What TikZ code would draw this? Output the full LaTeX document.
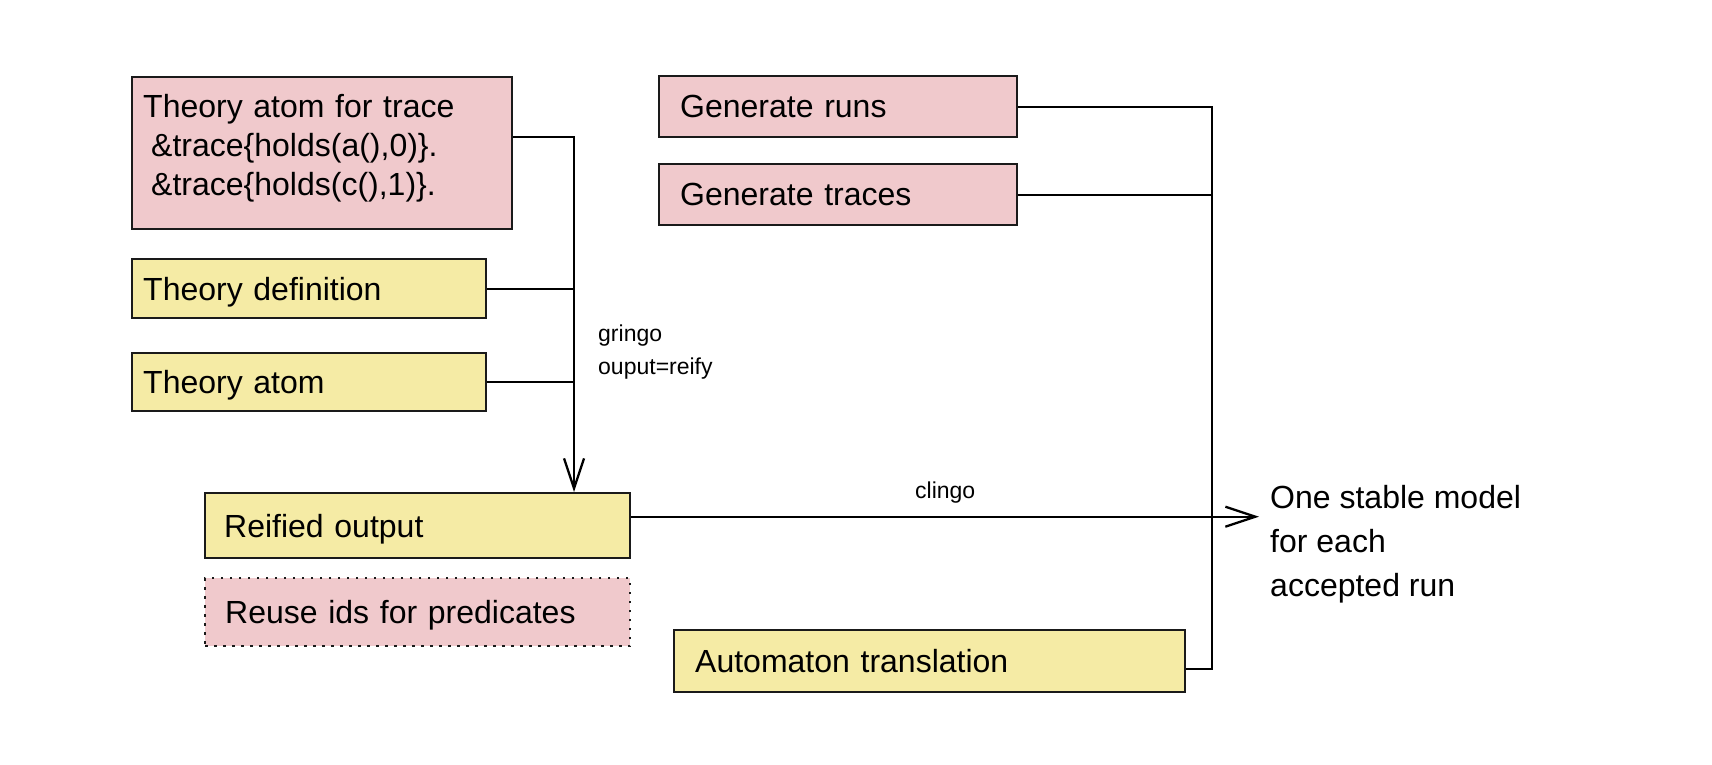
\documentclass[tikz,border=0pt]{standalone}
\usepackage{fontspec}
\setmainfont{Liberation Sans}
\usetikzlibrary{arrows.meta}
\definecolor{pinkfill}{HTML}{F0C9CC}
\definecolor{yellowfill}{HTML}{F5EBA5}
\definecolor{edge}{HTML}{1A1A1A}
\begin{document}
\begin{tikzpicture}[x=1pt,y=-1pt,
  box/.style={draw=edge, line width=2.4pt, anchor=north west, inner ysep=0pt, align=left, font=\fontsize{32}{39}\selectfont},
  pinkbox/.style={box, fill=pinkfill},
  yellowbox/.style={box, fill=yellowfill},
  oneline/.style={text depth=0pt},
  conn/.style={draw=black, line width=2.3pt},
  arr/.style={conn, -{Straight Barb[length=30pt, width=20pt, line width=2.3pt]}},
  small/.style={font=\fontsize{23}{33}\selectfont, inner sep=0pt, align=left}]
\useasboundingbox (0,0) rectangle (1712,764);

\node[pinkbox, inner xsep=11pt, minimum width=380pt, text width=358pt, minimum height=152pt, text height=23pt, text depth=94pt] (A) at (131,76)
  {Theory atom for trace\\\hspace*{0.25em}\&trace\{holds(a(),0)\}.\\\hspace*{0.25em}\&trace\{holds(c(),1)\}.};
\node[yellowbox, oneline, inner xsep=11pt, minimum width=354pt, text width=332pt, minimum height=59pt] (B) at (131,258) {Theory definition};
\node[yellowbox, oneline, inner xsep=11pt, minimum width=354pt, text width=332pt, minimum height=58pt] (C) at (131,352) {Theory atom};
\node[yellowbox, oneline, inner xsep=19pt, minimum width=425pt, text width=387pt, minimum height=65pt] (D) at (204,492) {Reified output};
\node[pinkbox, oneline, draw=edge, dash pattern=on 2.5pt off 6.5pt, inner xsep=20pt, minimum width=425pt, text width=385pt, minimum height=68pt] (E) at (204,577) {Reuse ids for predicates};
\node[pinkbox, oneline, inner xsep=21pt, minimum width=358pt, text width=316pt, minimum height=61pt] (F) at (658,75) {Generate runs};
\node[pinkbox, oneline, inner xsep=21pt, minimum width=358pt, text width=316pt, minimum height=61pt] (G) at (658,163) {Generate traces};
\node[yellowbox, oneline, inner xsep=21pt, minimum width=511pt, text width=469pt, minimum height=62pt] (H) at (673,629) {Automaton translation};

\node[anchor=north west, inner sep=0pt, align=left, font=\fontsize{32}{44}\selectfont] (out) at (1270,485)
  {One stable model\\for each\\accepted run};
\node[small, anchor=west] (gr) at (598,352) {gringo\\ouput=reify};

\coordinate (j) at (574,137);
\draw[arr] (A.east |- j) -- (j) -- (j |- D.north);
\draw[conn] (B.east) -- (B.east -| j);
\draw[conn] (C.east) -- (C.east -| j);

\coordinate (r) at (1212,104);
\coordinate (hc) at ([yshift=-8pt]H.east);
\draw[conn] (F.east) -- (F.east -| r) -- (r |- hc) -- (hc);
\draw[conn] (G.east) -- (G.east -| r);

\coordinate (ds) at ([yshift=9pt]D.east);
\coordinate (tx) at (1259,0);
\draw[arr] (ds) -- (ds -| tx) node[midway, above=12.5pt, small] (cl) {clingo};
\end{tikzpicture}
\end{document}
